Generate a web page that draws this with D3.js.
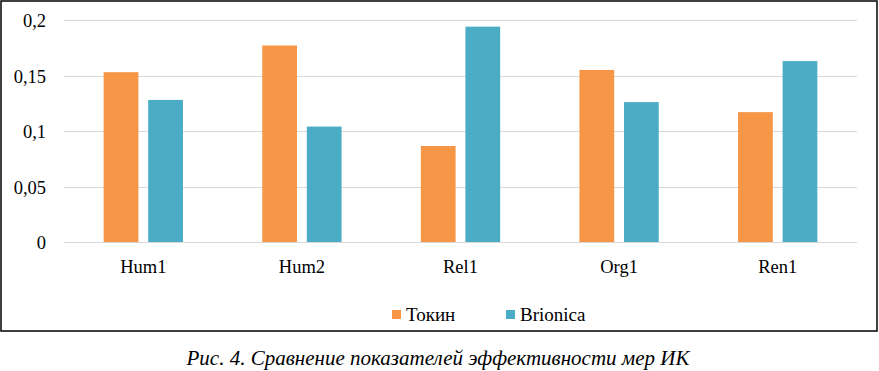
<!DOCTYPE html>
<html>
<head>
<meta charset="utf-8">
<script src="https://cdn.jsdelivr.net/npm/d3@7"></script>
<style>
  body { margin: 0; background: #fff; }
</style>
</head>
<body>
<div id="chart"></div>
<script>
const categories = ["Hum1", "Hum2", "Rel1", "Org1", "Ren1"]
const seriesNames = ["Токин", "Brionica"]
const tokin = [0.153, 0.177, 0.0865, 0.155, 0.117]
const brionica = [0.128, 0.104, 0.194, 0.126, 0.163]
const yTicks = [0, 0.05, 0.1, 0.15, 0.2]
const colors = ["#F79646", "#4BACC6"]
const caption = "Рис. 4. Сравнение показателей эффективности мер ИК"

const width = 879, height = 371
const serif = "'Liberation Serif'"

const svg = d3.select("#chart").append("svg")
    .attr("width", width)
    .attr("height", height)
    .style("font-family", serif)

// outer frame
svg.append("rect")
    .attr("x", 1).attr("y", 1)
    .attr("width", 876).attr("height", 330)
    .attr("fill", "none")
    .attr("stroke", "#000")
    .attr("stroke-width", 1.5)

const x0 = d3.scaleBand().domain(categories).range([64, 857]).paddingInner(0.5).paddingOuter(0.25)
const x1 = d3.scaleBand().domain(seriesNames).range([0, x0.bandwidth()]).paddingInner(0.22)
const y = d3.scaleLinear().domain([0, 0.2]).range([242, 20])

const fmt = d => String(d).replace(".", ",")

// gridlines
svg.append("g")
    .selectAll("line")
    .data(yTicks)
    .join("line")
        .attr("x1", 64).attr("x2", 857)
        .attr("y1", d => Math.round(y(d)) + 0.5)
        .attr("y2", d => Math.round(y(d)) + 0.5)
        .attr("stroke", "#D9D9D9")
        .attr("stroke-width", 1)

// y labels
svg.append("g")
    .selectAll("text")
    .data(yTicks)
    .join("text")
        .attr("x", 46)
        .attr("y", d => y(d) + 1)
        .attr("dy", "0.35em")
        .attr("text-anchor", "end")
        .attr("font-size", 18.5)
        .style("font-family", serif)
        .text(fmt)

// bars
const rows = categories.map((c, i) => ({ cat: c, vals: [tokin[i], brionica[i]] }))
svg.append("g")
    .selectAll("g")
    .data(rows)
    .join("g")
        .attr("transform", d => `translate(${x0(d.cat)},0)`)
    .selectAll("rect")
    .data(d => d.vals.map((v, j) => ({ name: seriesNames[j], v, j })))
    .join("rect")
        .attr("x", d => x1(d.name))
        .attr("y", d => y(d.v))
        .attr("width", x1.bandwidth())
        .attr("height", d => y(0) - y(d.v))
        .attr("fill", d => colors[d.j])

// category labels
svg.append("g")
    .selectAll("text")
    .data(categories)
    .join("text")
        .attr("x", d => x0(d) + x0.bandwidth() / 2)
        .attr("y", 273)
        .attr("text-anchor", "middle")
        .attr("font-size", 18.5)
        .style("font-family", serif)
        .text(d => d)

// legend
const legendX = [392, 506]
const legend = svg.append("g")
    .selectAll("g")
    .data(seriesNames)
    .join("g")
        .attr("transform", (d, i) => `translate(${legendX[i]},310)`)
legend.append("rect")
    .attr("width", 9).attr("height", 9)
    .attr("fill", (d, i) => colors[i])
legend.append("text")
    .attr("x", 14)
    .attr("y", 11)
    .attr("font-size", 19)
    .style("font-family", serif)
    .text(d => d)

// caption
svg.append("text")
    .attr("x", 438)
    .attr("y", 365)
    .attr("text-anchor", "middle")
    .attr("font-size", 21)
    .attr("font-style", "italic")
    .style("font-family", serif)
    .text(caption)
</script>
</body>
</html>
